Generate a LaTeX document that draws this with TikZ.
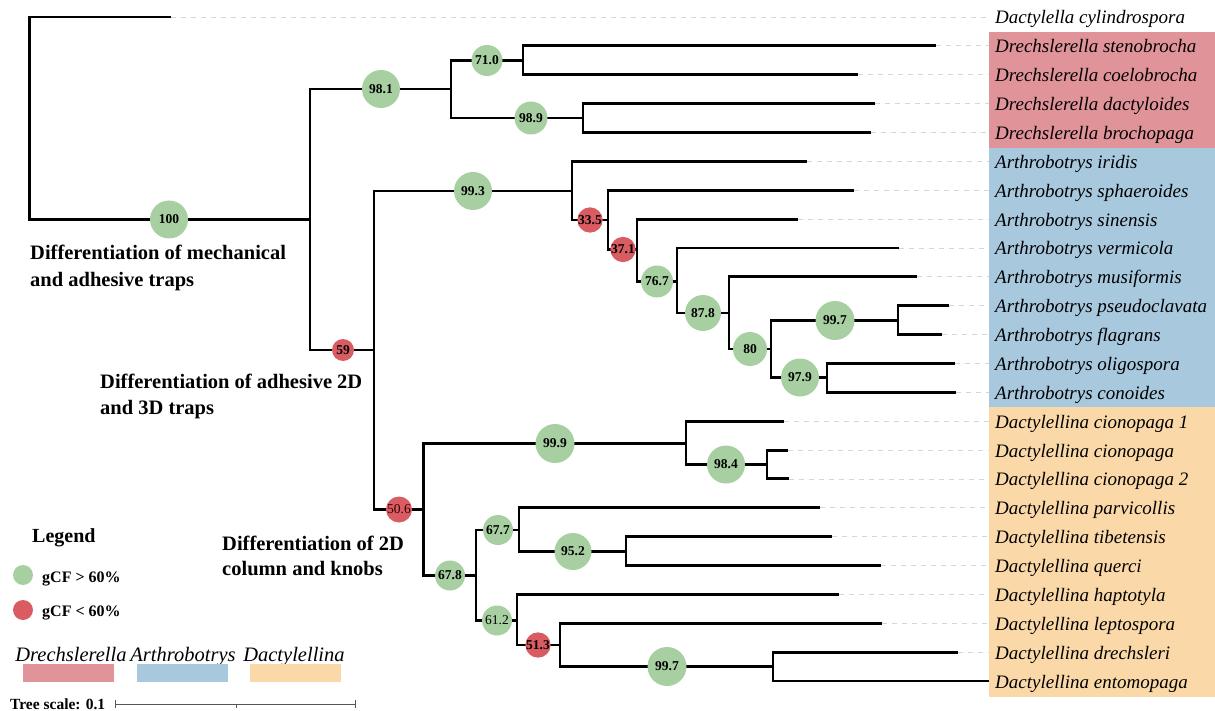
\documentclass[tikz,border=0pt]{standalone}
\usepackage{fontspec}
\setmainfont{Liberation Serif}
\definecolor{gcf}{HTML}{A7CFA2}
\definecolor{rcf}{HTML}{D95C62}
\definecolor{boxr}{HTML}{E1939A}
\definecolor{boxb}{HTML}{A8C8DE}
\definecolor{boxo}{HTML}{FAD8A8}
\definecolor{dashc}{HTML}{D6D6D6}
\definecolor{scalec}{HTML}{555555}
\tikzset{
 br/.style={line width=2.9pt, line join=miter},
 gn/.style={circle, fill=gcf, inner sep=0pt, minimum size=#1, font=\bfseries\fontsize{13.5}{13.5}\selectfont},
 rn/.style={circle, fill=rcf, inner sep=0pt, minimum size=#1, font=\bfseries\fontsize{13.5}{13.5}\selectfont},
 leaf/.style={anchor=base west, inner sep=0pt, font=\itshape\fontsize{19}{19}\selectfont},
 guide/.style={dashc, line width=0.8pt, dash pattern=on 5pt off 5pt},
 ann/.style={anchor=base west, inner sep=0pt, font=\bfseries\fontsize{20.5}{20.5}\selectfont},
 legtxt/.style={anchor=base west, inner sep=0pt, font=\bfseries\fontsize{16}{16}\selectfont},
 genus/.style={anchor=base, inner sep=0pt, font=\itshape\fontsize{20.5}{20.5}\selectfont},
}
\begin{document}
\begin{tikzpicture}[x=1pt,y=-1pt]
\useasboundingbox (0,0) rectangle (1215,711);
% clade boxes
\fill[boxr] (989,32) rectangle (1215,148);
\fill[boxb] (989,148) rectangle (1215,407);
\fill[boxo] (989,407) rectangle (1215,697);
% leaves
\foreach \i/\tx/\nm in {
 0/171/{Dactylella cylindrospora},
 1/936/{Drechslerella stenobrocha},
 2/858/{Drechslerella coelobrocha},
 3/875/{Drechslerella dactyloides},
 4/871/{Drechslerella brochopaga},
 5/807/{Arthrobotrys iridis},
 6/854/{Arthrobotrys sphaeroides},
 7/798/{Arthrobotrys sinensis},
 8/899/{Arthrobotrys vermicola},
 9/917/{Arthrobotrys musiformis},
 10/949/{Arthrobotrys pseudoclavata},
 11/942/{Arthrobotrys flagrans},
 12/955/{Arthrobotrys oligospora},
 13/956/{Arthrobotrys conoides},
 14/784/{Dactylellina cionopaga 1},
 15/788/{Dactylellina cionopaga},
 16/789/{Dactylellina cionopaga 2},
 17/820/{Dactylellina parvicollis},
 18/832/{Dactylellina tibetensis},
 19/881/{Dactylellina querci},
 20/839/{Dactylellina haptotyla},
 21/882/{Dactylellina leptospora},
 22/958/{Dactylellina drechsleri},
 23/989/{Dactylellina entomopaga}}{
 \coordinate (t\i) at (\tx,{17+28.87*\i});
 \coordinate (e\i) at (989,{17+28.87*\i});
 \draw[guide] (t\i) -- (e\i);
 \node[leaf] (lab\i) at (995,{24+28.87*\i}) {\nm};
}
% internal branch points
\coordinate (A) at (29.5,118);
\coordinate (B) at (310,219.5);
\coordinate (C) at (451,89);
\coordinate (D) at (523,60.5);
\coordinate (E) at (583,118);
\coordinate (F) at (374,350);
\coordinate (G) at (572,191);
\coordinate (H) at (608,220);
\coordinate (I) at (637,249.5);
\coordinate (J) at (677,281.5);
\coordinate (K) at (729,313);
\coordinate (L) at (771,349);
\coordinate (M) at (898,320.5);
\coordinate (N) at (827,377.5);
\coordinate (O) at (423.5,509.5);
\coordinate (P) at (686,443.5);
\coordinate (Rr) at (767,464.5);
\coordinate (Q) at (476,575.5);
\coordinate (S) at (519,530);
\coordinate (U) at (626,551.5);
\coordinate (T) at (517,620.5);
\coordinate (V) at (560,645);
\coordinate (W) at (773,666.5);
% branches
\draw[br] (t0) -| (A) |- (B);
\draw[br] (C) -| (B) |- (F);
\draw[br] (D) -| (C) |- (E);
\draw[br] (t1) -| (D) |- (t2);
\draw[br] (t3) -| (E) |- (t4);
\draw[br] (G) -| (F) |- (O);
\draw[br] (t5) -| (G) |- (H);
\draw[br] (t6) -| (H) |- (I);
\draw[br] (t7) -| (I) |- (J);
\draw[br] (t8) -| (J) |- (K);
\draw[br] (t9) -| (K) |- (L);
\draw[br] (M) -| (L) |- (N);
\draw[br] (t10) -| (M) |- (t11);
\draw[br] (t12) -| (N) |- (t13);
\draw[br] (P) -| (O) |- (Q);
\draw[br] (t14) -| (P) |- (Rr);
\draw[br] (t15) -| (Rr) |- (t16);
\draw[br] (S) -| (Q) |- (T);
\draw[br] (t17) -| (S) |- (U);
\draw[br] (t18) -| (U) |- (t19);
\draw[br] (t20) -| (T) |- (V);
\draw[br] (t21) -| (V) |- (W);
\draw[br] (t22) -| (W) |- (t23);
% support circles
\node[gn=38] (cB) at (169,219.5) {100};
\node[gn=38] (cC) at (381,89) {98.1};
\node[gn=31] (cD) at (487,60.5) {71.0};
\node[gn=33] (cE) at (531,118) {98.9};
\node[rn=22] (cF) at (343,350) {59};
\node[gn=38] (cG) at (473,191) {99.3};
\node[rn=21] (cH) at (590,220) {33.5};
\node[rn=21] (cI) at (623,249.5) {37.1};
\node[gn=32] (cJ) at (657,281.5) {76.7};
\node[gn=36] (cK) at (703,313) {87.8};
\node[gn=34] (cL) at (750,349) {80};
\node[gn=39] (cM) at (835,320.5) {99.7};
\node[gn=38] (cN) at (800,377.5) {97.9};
\node[rn=26, font=\fontsize{13.5}{13.5}\selectfont, text=black!80!red] (cO) at (399,509.5) {50.6};
\node[gn=39] (cP) at (555,443.5) {99.9};
\node[gn=38] (cR) at (726,464.5) {98.4};
\node[gn=30] (cQ) at (450,575.5) {67.8};
\node[gn=30] (cS) at (498,530) {67.7};
\node[gn=37] (cU) at (573,551.5) {95.2};
\node[gn=30, font=\fontsize{13.5}{13.5}\selectfont] (cT) at (497,620.5) {61.2};
\node[rn=24] (cV) at (538,645) {51.3};
\node[gn=39] (cW) at (667,666.5) {99.7};
% annotations
\node[ann] (a1) at (30,260) {Differentiation of mechanical};
\node[ann] (a2) at (30,287) {and adhesive traps};
\node[ann] (a3) at (100,388) {Differentiation of adhesive 2D};
\node[ann] (a4) at (100,414) {and 3D traps};
\node[ann] (a5) at (222,550) {Differentiation of 2D};
\node[ann] (a6) at (222,575) {column and knobs};
% legend
\node[anchor=base west, inner sep=0pt, font=\bfseries\fontsize{20}{20}\selectfont] (leg) at (32,542) {Legend};
\node[circle, fill=gcf, minimum size=20pt, inner sep=0pt] (lg1) at (23,575) {};
\node[legtxt] (lt1) at (42,582) {gCF > 60\%};
\node[circle, fill=rcf, minimum size=20pt, inner sep=0pt] (lg2) at (23,610) {};
\node[legtxt] (lt2) at (42,616) {gCF < 60\%};
% genus colour key
\node[genus] (g1) at (71,661) {Drechslerella};
\node[genus] (g2) at (183,661) {Arthrobotrys};
\node[genus] (g3) at (294,661) {Dactylellina};
\fill[boxr] (23,664) rectangle (114,682);
\fill[boxb] (137,664) rectangle (228,682);
\fill[boxo] (250,664) rectangle (341,682);
% tree scale
\node[legtxt, font=\bfseries\fontsize{15.5}{15.5}\selectfont] (ts) at (10,709) {Tree scale: 0.1};
\coordinate (s1) at (115,704);
\coordinate (s2) at (355,704);
\coordinate (sm) at (236,704);
\draw[scalec, line width=0.8pt] (s1) -- (s2);
\draw[scalec, line width=0.8pt] ([yshift=4pt]s1) -- ([yshift=-4pt]s1);
\draw[scalec, line width=0.8pt] ([yshift=4pt]s2) -- ([yshift=-4pt]s2);
\draw[scalec, line width=0.8pt] (sm) -- ([yshift=-4pt]sm);
\end{tikzpicture}
\end{document}
